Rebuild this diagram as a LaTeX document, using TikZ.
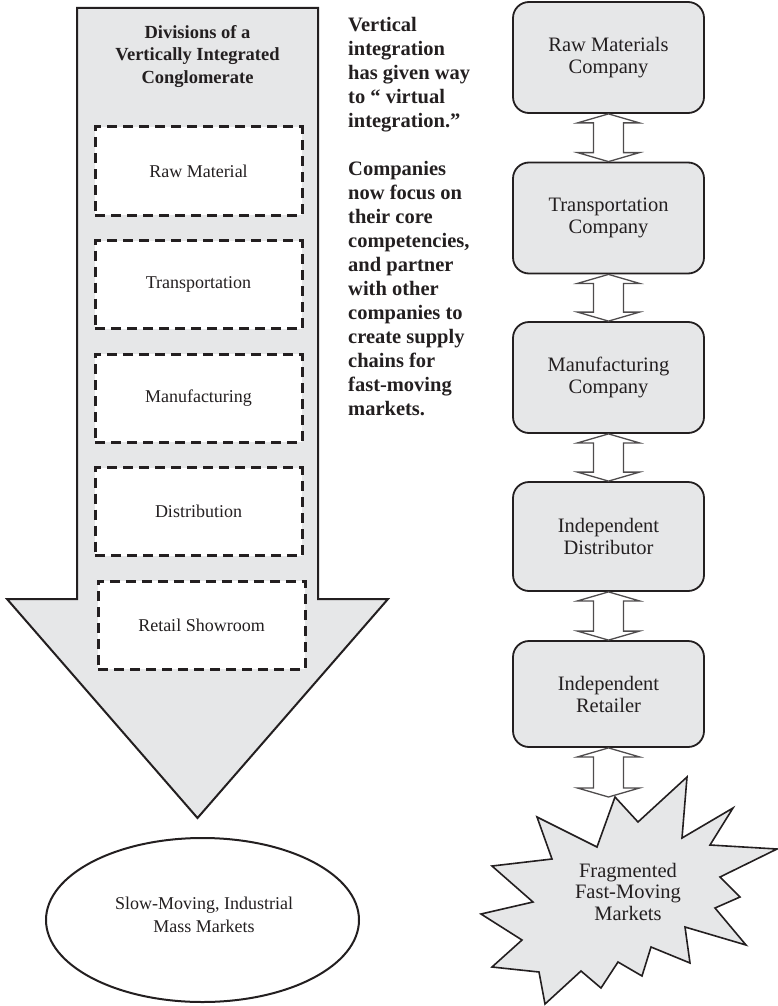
\documentclass[tikz,border=0pt]{standalone}
\usepackage{fontspec}
\setmainfont{Liberation Serif}
\usetikzlibrary{calc,shapes.geometric}
\definecolor{fillgray}{HTML}{E6E7E8}
\definecolor{ink}{HTML}{231F20}
\newcommand\twoway[2]{%
  \draw[dblarr] let \p1=(#1), \p2=(#2) in
    (\x1,\y1) -- ({\x1+31pt},{\y1-9pt}) -- ({\x1+15pt},{\y1-9pt})
    -- ({\x1+15pt},{\y2+9pt}) -- ({\x1+31pt},{\y2+9pt}) -- (\x1,\y2)
    -- ({\x1-31pt},{\y2+9pt}) -- ({\x1-15pt},{\y2+9pt})
    -- ({\x1-15pt},{\y1-9pt}) -- ({\x1-31pt},{\y1-9pt}) -- cycle;}
\begin{document}
\begin{tikzpicture}[x=1pt,y=-1pt,
  bigarrow/.style={draw=ink, line width=2pt, fill=fillgray, line join=miter},
  divbox/.style={draw=ink, line width=3pt, dash pattern=on 10pt off 6pt,
    fill=white, minimum width=207pt, minimum height=88pt, inner sep=0pt,
    font=\fontsize{18}{22}\selectfont, text=ink},
  titletext/.style={align=center, inner sep=0pt, text=ink,
    font=\fontsize{18.5}{22.5}\selectfont\bfseries},
  sidetext/.style={align=left, inner sep=0pt, text=ink, anchor=north west,
    font=\fontsize{20.5}{24}\selectfont\bfseries},
  company/.style={draw=ink, line width=1.8pt, rounded corners=16pt,
    fill=fillgray, minimum width=191pt, align=center, inner sep=0pt,
    font=\fontsize{20.5}{22}\selectfont, text=ink},
  dblarr/.style={draw=ink!80, line width=1.3pt, fill=white, line join=miter},
  market/.style={draw=ink, line width=2pt, ellipse, minimum width=313pt,
    minimum height=164pt, inner sep=0pt},
  markettext/.style={align=center, inner sep=0pt, text=ink,
    font=\fontsize{18}{23}\selectfont},
  burst/.style={draw=ink, line width=1.6pt, fill=fillgray, line join=miter},
  bursttext/.style={align=center, inner sep=0pt, text=ink,
    font=\fontsize{20.5}{21.5}\selectfont}]
\useasboundingbox (0,0) rectangle (778,1006);

% big downward arrow
\draw[bigarrow] (77,8) -- (318,8) -- (318,599) -- (388,599) -- (197.5,818)
  -- (7,599) -- (77,599) -- cycle;
\node[titletext] (title) at (197.5,56.5)
  {Divisions of a\\Vertically Integrated\\Conglomerate};

\node[divbox] (raw)    at (198.5,171)   {Raw Material};
\node[divbox] (trans)  at (198.5,284.5) {Transportation};
\node[divbox] (manu)   at (198.5,398)   {Manufacturing};
\node[divbox] (dist)   at (198.5,511.5) {Distribution};
\node[divbox] (retail) at (201.5,625)   {Retail Showroom};

\node[market] (slow) at (202.5,920) {};
\node[markettext] (slowtext) at (204,914.5) {Slow-Moving, Industrial\\Mass Markets};

% middle text
\node[sidetext] (note) at (348,17.5)
  {Vertical\\integration\\has given way\\to “ virtual\\integration.”\\[24pt]%
   Companies\\now focus on\\their core\\competencies,\\and partner\\with other\\%
   companies to\\create supply\\chains for\\fast-moving\\markets.};

% right column
\node[company, minimum height=111pt] (c1) at (608.5,57.5)  {Raw Materials\\Company};
\node[company, minimum height=111pt] (c2) at (608.5,218)   {Transportation\\Company};
\node[company, minimum height=111pt] (c3) at (608.5,377.5) {Manufacturing\\Company};
\node[company, minimum height=109pt] (c4) at (608.5,536.5) {Independent\\Distributor};
\node[company, minimum height=106pt] (c5) at (608.5,694)   {Independent\\Retailer};

% starburst
\draw[burst] (615,797) -- (638,822) -- (687,777) -- (682,838) -- (733,808)
  -- (710,845) -- (777,849) -- (720,877) -- (740,897) -- (715,908)
  -- (746,945) -- (685,927) -- (690,963) -- (651,947) -- (642,976)
  -- (618,962) -- (601,988) -- (581,971) -- (545,1004) -- (539,972)
  -- (492,967) -- (522,940) -- (481,914) -- (533,902) -- (492,866)
  -- (552,859) -- (537,817) -- (597,847) -- cycle;
\coordinate (bursttop) at (608.5,797);
\node[bursttext] (frag) at (628,891.5) {Fragmented\\Fast-Moving\\Markets};

\twoway{c1.south}{c2.north}
\twoway{c2.south}{c3.north}
\twoway{c3.south}{c4.north}
\twoway{c4.south}{c5.north}
\twoway{c5.south}{bursttop}
\end{tikzpicture}
\end{document}
